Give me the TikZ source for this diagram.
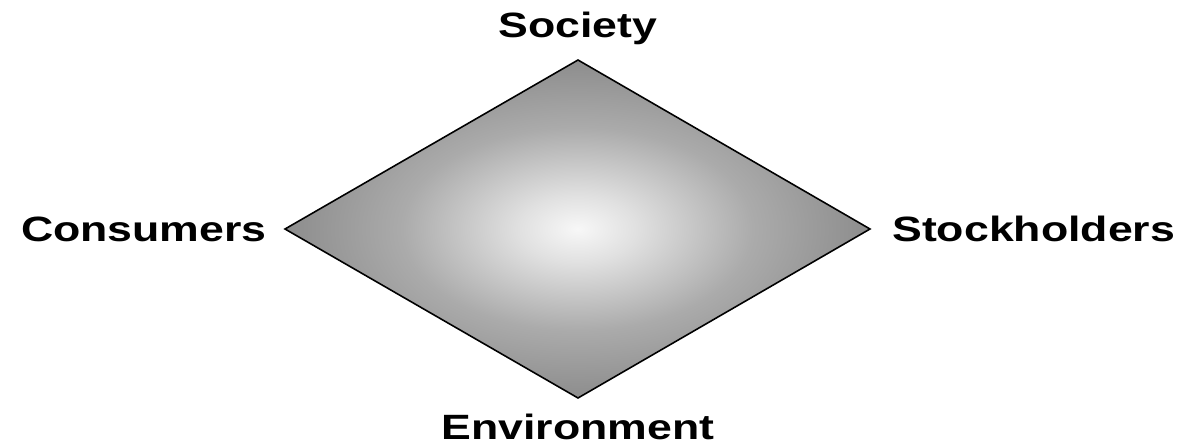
\documentclass[tikz,border=0pt]{standalone}
\usepackage{fontspec}
\setmainfont{Liberation Sans}[FakeStretch=1.27]
\usepackage{tikz}
\usetikzlibrary{positioning}
\pgfdeclareradialshading{glow}{\pgfpoint{0bp}{0bp}}{color(0bp)=(black!3); color(5bp)=(black!12); color(15bp)=(black!33); color(26bp)=(black!46); color(36bp)=(black!52); color(50bp)=(black!48)}
\tikzset{lbl/.style={inner sep=0pt, font=\fontsize{20}{24}\bfseries\selectfont}}

\begin{document}
\begin{tikzpicture}
\useasboundingbox (-11.56,-4.34) rectangle (12.06,4.58);
\coordinate (T) at (0,3.38);
\coordinate (B) at (0,-3.38);
\coordinate (L) at (-5.86,0);
\coordinate (R) at (5.84,0);
\draw[shading=glow, line width=0.9pt, line join=miter] (T) -- (R) -- (B) -- (L) -- cycle;
\node[lbl, anchor=base] (society) at ([yshift=0.44cm]T) {Society};
\node[lbl, left=0.36cm of L] (consumers) {Consumers};
\node[lbl, right=0.44cm of R] (stockholders) {Stockholders};
\node[lbl, anchor=base] (environment) at ([yshift=-0.82cm]B) {Environment};
\end{tikzpicture}
\end{document}
